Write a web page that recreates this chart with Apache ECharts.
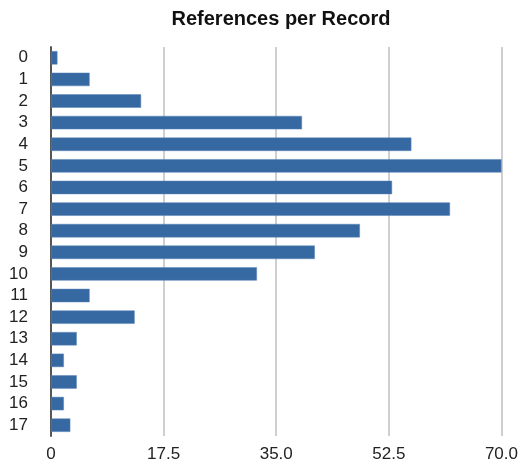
<!DOCTYPE html>
<html>
<head>
<meta charset="utf-8">
<script src="https://cdn.jsdelivr.net/npm/echarts@6/dist/echarts.min.js"></script>
<style>
  html, body { margin: 0; padding: 0; background: #fff; }
  #chart { width: 521px; height: 464px; }
</style>
</head>
<body>
<div id="chart"></div>
<script>
// Number of references per record (0..17) and how many records have that count
const categories = ['0', '1', '2', '3', '4', '5', '6', '7', '8', '9', '10', '11', '12', '13', '14', '15', '16', '17'];
const counts = [1, 6, 14, 39, 56, 70, 53, 62, 48, 41, 32, 6, 13, 4, 2, 4, 2, 3];
const xTicks = [0, 17.5, 35, 52.5, 70];

const chart = echarts.init(document.getElementById('chart'));
const font = '"Liberation Sans", Arial, Helvetica, sans-serif';

chart.setOption({
  animation: false,
  title: {
    text: 'References per Record',
    left: 276,
    textAlign: 'center',
    top: 4,
    textStyle: { fontFamily: font, fontSize: 20, fontWeight: 'bold', color: '#111' }
  },
  grid: { left: 51, right: 19, top: 47, bottom: 28, containLabel: false },
  xAxis: {
    type: 'value',
    min: xTicks[0],
    max: xTicks[xTicks.length - 1],
    interval: 17.5,
    axisLine: { show: false },
    axisTick: { show: false },
    axisLabel: {
      margin: 10,
      fontFamily: font,
      fontSize: 17,
      color: '#222',
      formatter: v => (v === 0 ? '0' : v.toFixed(1))
    },
    splitLine: { show: true, lineStyle: { color: '#cfcfcf', width: 2 } }
  },
  yAxis: {
    type: 'category',
    data: categories,
    inverse: true,
    axisLine: { show: true, lineStyle: { color: '#555', width: 2 } },
    axisTick: { show: false },
    axisLabel: { interval: 0, margin: 23, fontFamily: font, fontSize: 17, color: '#222' },
    splitLine: { show: false }
  },
  series: [{
    type: 'bar',
    data: counts,
    barCategoryGap: '38%',
    itemStyle: { color: '#3668a2', borderColor: '#5b87b9', borderWidth: 0.5 }
  }]
});
</script>
</body>
</html>
